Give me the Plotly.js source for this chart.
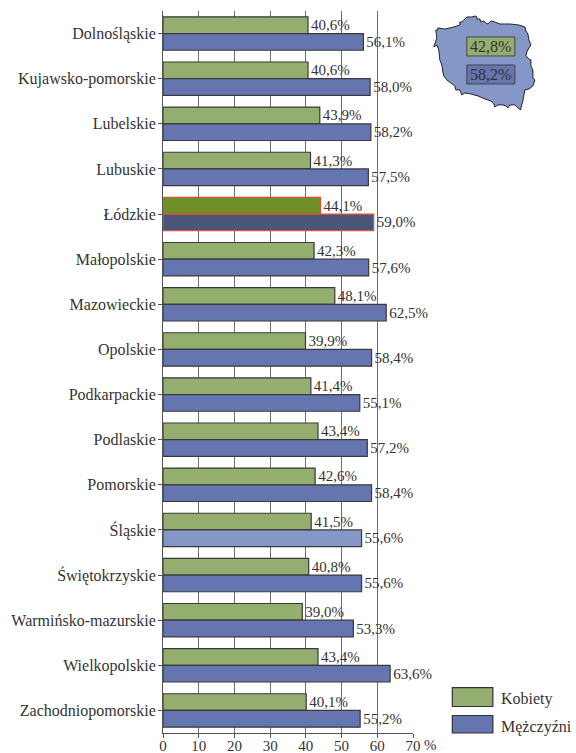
<!DOCTYPE html>
<html><head><meta charset="utf-8">
<script src="https://cdn.plot.ly/plotly-3.0.1.min.js"></script>
<style>html,body{margin:0;padding:0;background:#fff}</style></head>
<body><div id="chart" style="width:576px;height:753px"></div>
<script>
const regions = ["Dolnośląskie","Kujawsko-pomorskie","Lubelskie","Lubuskie","Łódzkie","Małopolskie","Mazowieckie","Opolskie","Podkarpackie","Podlaskie","Pomorskie","Śląskie","Świętokrzyskie","Warmińsko-mazurskie","Wielkopolskie","Zachodniopomorskie"];
const women = [40.6,40.6,43.9,41.3,44.1,42.3,48.1,39.9,41.4,43.4,42.6,41.5,40.8,39.0,43.4,40.1];
const men = [56.1,58.0,58.2,57.5,59.0,57.6,62.5,58.4,55.1,57.2,58.4,55.6,55.6,53.3,63.6,55.2];
const nationalWomen = "42,8%";
const nationalMen = "58,2%";
const xTicks = [0,10,20,30,40,50,60,70];
const fmt = v => v.toFixed(1).replace(".", ",") + "%";
const W=576,H=753,L=163.4,R=413.2,T=11,B=733.5;
const px = x => (x-L)/(R-L), py = y => (B-y)/(B-T);
const GREEN="#93ae6e", BLUE="#6475b0", LIGHT="#8497c6", INK="#333333";
const FONT="Liberation Serif";
const womenColors = regions.map(r => r==="Łódzkie" ? "#6f8f2a" : GREEN);
const menColors = regions.map(r => r==="Łódzkie" ? "#4a5578" : r==="Śląskie" ? LIGHT : BLUE);
const edge = r => r==="Łódzkie" ? "#e8502a" : "#3a3a3a";
const mapPts = [[436,30],[438,30],[438,28],[445,29],[450,28],[454,27],[457,26],[460,25],[460,22],[462,22],[464,20],[467,17],[472,17],[476,16],[477,17],[477,19],[480,19],[481,22],[484,21],[486,23],[488,24],[491,21],[495,22],[500,24],[505,24],[510,24],[519,25],[525,27],[526,31],[528,34],[529,40],[531,45],[529,48],[527,52],[526,56],[529,59],[531,60],[531,66],[533,70],[533,78],[535,80],[533,86],[529,89],[525,90],[524,95],[523,101],[521,108],[521,110],[518,108],[515,105],[510,105],[508,108],[506,106],[503,105],[498,105],[495,107],[494,104],[491,101],[485,99],[478,96],[471,94],[465,93],[462,95],[460,90],[456,90],[455,86],[451,83],[447,80],[444,76],[443,72],[442,65],[440,60],[439,50],[437,45],[434,47],[436,41],[437,38]];
const path = "M" + mapPts.map(p => px(p[0]).toFixed(4)+","+py(p[1]).toFixed(4)).join("L") + "Z";
const box = (x0,y0,x1,y1,fill,line,lw) => ({type:"rect",xref:"paper",yref:"paper",x0:px(x0),x1:px(x1),y0:py(y1),y1:py(y0),fillcolor:fill,line:{color:line,width:lw===undefined?1:lw},layer:"above"});
const note = (x,y,text,anchor,size) => ({xref:"paper",yref:"paper",x:px(x),y:py(y),text,showarrow:false,xanchor:anchor,yanchor:"middle",align:"left",font:{family:FONT,size:size,color:INK}});
const traces = [
 {type:"bar",orientation:"h",name:"Kobiety",y:regions,x:women,text:women.map(fmt),textposition:"outside",cliponaxis:false,textfont:{family:FONT,size:15,color:INK},marker:{color:womenColors,line:{color:regions.map(edge),width:1.2}}},
 {type:"bar",orientation:"h",name:"Mężczyźni",y:regions,x:men,text:men.map(fmt),textposition:"outside",cliponaxis:false,textfont:{family:FONT,size:15,color:INK},marker:{color:menColors,line:{color:regions.map(edge),width:1.2}}}
];
const layout = {
 width:W,height:H,showlegend:false,barmode:"group",bargap:0.26,bargroupgap:0,
 margin:{l:L,r:W-R,t:T,b:H-B,pad:0},paper_bgcolor:"#fff",plot_bgcolor:"#fff",
 font:{family:FONT,color:INK},
 xaxis:{range:[0,70],tickvals:xTicks,ticks:"outside",ticklen:4,tickcolor:"#555",showgrid:true,gridcolor:"#6e6e6e",gridwidth:1,showline:true,linecolor:"#555",zeroline:false,ticklabelstandoff:-5,tickfont:{family:FONT,size:15,color:INK}},
 yaxis:{autorange:"reversed",type:"category",ticks:"outside",ticklen:4,tickcolor:"#555",showgrid:false,showline:true,linecolor:"#555",ticklabelstandoff:-1,tickfont:{family:FONT,size:16,color:INK}},
 shapes:[
  {type:"path",xref:"paper",yref:"paper",path:path,fillcolor:LIGHT,line:{color:"#222",width:1},layer:"above"},
  box(467,37,515,56,GREEN,"#444"),
  box(467,65,515,84,BLUE,"#444"),
  box(452.5,688,493,707,GREEN,"#333",1.2),
  box(452.5,716,493,733.5,BLUE,"#333",1.2)
 ],
 annotations:[
  note(491,46.5,nationalWomen,"center",16),
  note(491,74.5,nationalMen,"center",16),
  note(499,699,"Kobiety","left",16),
  note(499,727,"Mężczyźni","left",16),
  note(431,746,"%","center",15)
 ]
};
Plotly.newPlot("chart",traces,layout,{displayModeBar:false,staticPlot:true});
</script></body></html>
